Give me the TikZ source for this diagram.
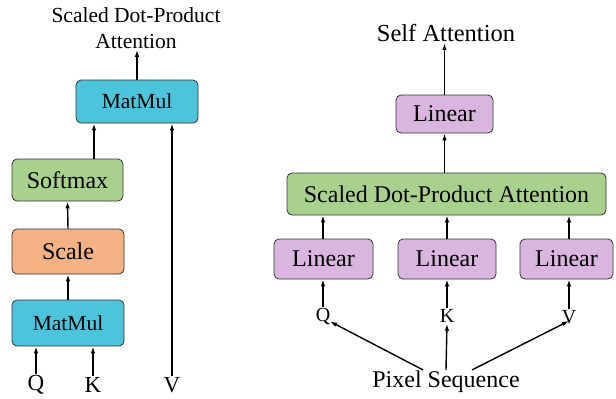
\documentclass[tikz,border=0pt]{standalone}
\usepackage{fontspec}
\setmainfont{Liberation Serif}
\usetikzlibrary{arrows.meta}

\definecolor{mmblue}{HTML}{4BC4DC}
\definecolor{smgreen}{HTML}{A9D18E}
\definecolor{scorange}{HTML}{F4B183}
\definecolor{linpurple}{HTML}{D9B5E0}

\tikzset{
  blk/.style={draw=black!80, line width=0.8pt, rounded corners=5pt, inner sep=0pt,
    font=\fontsize{24}{27}\selectfont},
  txt/.style={inner sep=1pt, font=\fontsize{23}{26}\selectfont},
  arr/.style={-{Latex[length=7pt,width=4.5pt]}, line width=1.4pt},
}

\begin{document}
\begin{tikzpicture}[x=1pt, y=-1pt]
            \useasboundingbox (0,0) rectangle (616,399);

            % Left: scaled dot-product attention
            \node[blk, fill=mmblue, minimum width=122pt, minimum height=43pt,
              font=\fontsize{21.5}{24}\selectfont] (mmtop) at (137,101.5) {MatMul};
            \node[blk, fill=smgreen, minimum width=111pt, minimum height=42pt] (soft) at (67.5,180) {Softmax};
            \node[blk, fill=scorange, minimum width=112pt, minimum height=45pt] (scale) at (68,251.5) {Scale};
            \node[blk, fill=mmblue, minimum width=112pt, minimum height=46pt,
              font=\fontsize{21.5}{24}\selectfont] (mmbot) at (68,323) {MatMul};
            \node[txt, align=center, font=\fontsize{21.5}{26}\selectfont] (sdpatitle) at (136,28)
              {Scaled Dot-Product\\Attention};

            % Left inputs
            \node[txt] (q) at (36,385) {Q};
            \node[txt] (k) at (93,385) {K};
            \node[txt] (v) at (172,385) {V};

            % Left arrows
            \draw[arr] (mmtop.north) -- (mmtop.north |- sdpatitle.south);
            \draw[arr] ([xshift=26.5pt]soft.north) -- ([xshift=26.5pt]soft.north |- mmtop.south);
            \draw[arr] (scale.north) -- (soft.south);
            \draw[arr] (mmbot.north) -- (scale.south);
            \draw[arr] (q.north) -- (q.north |- mmbot.south);
            \draw[arr] (k.north) -- (k.north |- mmbot.south);
            \draw[arr] (v.north) -- (v.north |- mmtop.south);

            % Right: self attention
            \node[txt, font=\fontsize{24.5}{27}\selectfont] (satitle) at (446,33) {Self Attention};
            \node[blk, fill=linpurple, minimum width=97pt, minimum height=38pt] (linout) at (444.5,114) {Linear};
            \node[blk, fill=smgreen, minimum width=319pt, minimum height=42pt] (sdpa) at (446.5,194)
              {Scaled Dot-Product Attention};
            \node[blk, fill=linpurple, minimum width=99pt, minimum height=40pt] (linq) at (323.5,259) {Linear};
            \node[blk, fill=linpurple, minimum width=98pt, minimum height=40pt] (link) at (447,259) {Linear};
            \node[blk, fill=linpurple, minimum width=93pt, minimum height=40pt] (linv) at (566.5,259) {Linear};

            % Right inputs
            \node[txt, font=\fontsize{20}{24}\selectfont] (q2) at (323,316) {Q};
            \node[txt, font=\fontsize{20}{24}\selectfont] (k2) at (447,316) {K};
            \node[txt, font=\fontsize{20}{24}\selectfont] (v2) at (569,317) {V};
            \node[txt, font=\fontsize{24}{27}\selectfont] (pix) at (446,382) {Pixel Sequence};

            % Right arrows
            \draw[arr] (linout.north) -- (linout.north |- satitle.south);
            \draw[arr] (linout.north |- sdpa.north) -- (linout.south);
            \foreach \ln/\in in {linq/q2, link/k2, linv/v2} {
              \draw[arr] (\in.north |- \ln.north) -- (\in.north |- sdpa.south);
              \draw[arr] (\in.north) -- (\in.north |- \ln.south);
            }
            \draw[arr] ([xshift=-23pt]pix.north) -- ([xshift=7pt,yshift=4pt]q2.south);
            \draw[arr] (pix.north) -- (k2.south);
            \draw[arr] ([xshift=26pt]pix.north) -- ([yshift=4pt]v2.south);

\end{tikzpicture}
\end{document}
